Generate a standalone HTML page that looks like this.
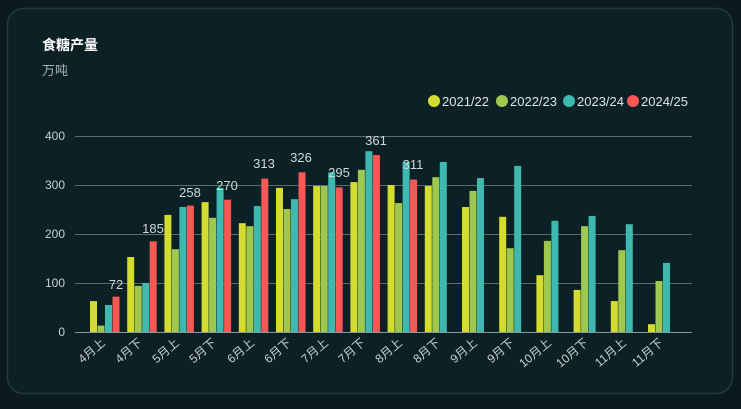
<!DOCTYPE html>
<html><head><meta charset="utf-8"><style>
html,body{margin:0;padding:0;background:#0b1a1e;}
body{width:741px;height:404px;overflow:hidden;font-family:"Liberation Sans","Noto Sans CJK SC",sans-serif;}
</style></head><body>
<svg width="741" height="404" xmlns="http://www.w3.org/2000/svg" font-family="Liberation Sans, Noto Sans CJK SC, sans-serif">
<rect x="0" y="0" width="741" height="404" fill="#0b1a1e"/>
<rect x="7.5" y="8.5" width="725" height="385" rx="16" fill="#0b2125" stroke="#26383c" stroke-width="1.5"/>
<text x="42" y="50" fill="#ffffff" font-size="14" font-weight="bold">食糖产量</text>
<text x="42" y="75" fill="#a9b3b7" font-size="13">万吨</text>
<g font-size="13" fill="#dfe4e6">
<circle cx="434" cy="101" r="6" fill="#d4dd2f"/><text x="442" y="106">2021/22</text>
<circle cx="502" cy="101" r="6" fill="#a0c84e"/><text x="510" y="106">2022/23</text>
<circle cx="569" cy="101" r="6" fill="#3fb8af"/><text x="577" y="106">2023/24</text>
<circle cx="633" cy="101" r="6" fill="#fa5855"/><text x="641" y="106">2024/25</text>
</g>
<g stroke="#5d6a6e" stroke-width="1">
<line x1="75" x2="692" y1="136.5" y2="136.5"/>
<line x1="75" x2="692" y1="185.5" y2="185.5"/>
<line x1="75" x2="692" y1="234.5" y2="234.5"/>
<line x1="75" x2="692" y1="283.5" y2="283.5"/>
<line x1="75" x2="692" y1="332.5" y2="332.5" stroke="#8a9599"/>
</g>
<g font-size="12" fill="#c8d0d4" text-anchor="end">
<text x="65" y="140">400</text><text x="65" y="189">300</text><text x="65" y="238">200</text><text x="65" y="287">100</text><text x="65" y="336">0</text>
</g>
<g>
<!-- g0 -->
<rect x="90" y="301.1" width="7" height="30.9" fill="#d4dd2f"/><rect x="97.5" y="325.6" width="7" height="6.4" fill="#a0c84e"/><rect x="105" y="305" width="7" height="27" fill="#3fb8af"/><rect x="112.5" y="296.7" width="7" height="35.3" fill="#fa5855"/>
<rect x="127.2" y="257" width="7" height="75" fill="#d4dd2f"/><rect x="134.7" y="285.9" width="7" height="46.1" fill="#a0c84e"/><rect x="142.2" y="283" width="7" height="49" fill="#3fb8af"/><rect x="149.7" y="241.3" width="7" height="90.7" fill="#fa5855"/>
<rect x="164.4" y="214.9" width="7" height="117.1" fill="#d4dd2f"/><rect x="171.9" y="249.2" width="7" height="82.8" fill="#a0c84e"/><rect x="179.4" y="207" width="7" height="125" fill="#3fb8af"/><rect x="186.9" y="205.6" width="7" height="126.4" fill="#fa5855"/>
<rect x="201.6" y="202.1" width="7" height="129.9" fill="#d4dd2f"/><rect x="209.1" y="217.8" width="7" height="114.2" fill="#a0c84e"/><rect x="216.6" y="187.9" width="7" height="144.1" fill="#3fb8af"/><rect x="224.1" y="199.7" width="7" height="132.3" fill="#fa5855"/>
<rect x="238.8" y="223.2" width="7" height="108.8" fill="#d4dd2f"/><rect x="246.3" y="226.2" width="7" height="105.8" fill="#a0c84e"/><rect x="253.8" y="206.1" width="7" height="125.9" fill="#3fb8af"/><rect x="261.3" y="178.6" width="7" height="153.4" fill="#fa5855"/>
<rect x="276" y="187.9" width="7" height="144.1" fill="#d4dd2f"/><rect x="283.5" y="209" width="7" height="123" fill="#a0c84e"/><rect x="291" y="199.2" width="7" height="132.8" fill="#3fb8af"/><rect x="298.5" y="172.3" width="7" height="159.7" fill="#fa5855"/>
<rect x="313.2" y="186" width="7" height="146" fill="#d4dd2f"/><rect x="320.7" y="186" width="7" height="146" fill="#a0c84e"/><rect x="328.2" y="172.3" width="7" height="159.7" fill="#3fb8af"/><rect x="335.7" y="187.4" width="7" height="144.6" fill="#fa5855"/>
<rect x="350.4" y="182.1" width="7" height="149.9" fill="#d4dd2f"/><rect x="357.9" y="169.8" width="7" height="162.2" fill="#a0c84e"/><rect x="365.4" y="151.2" width="7" height="180.8" fill="#3fb8af"/><rect x="372.9" y="155.1" width="7" height="176.9" fill="#fa5855"/>
<rect x="387.6" y="185" width="7" height="147" fill="#d4dd2f"/><rect x="395.1" y="203.1" width="7" height="128.9" fill="#a0c84e"/><rect x="402.6" y="162" width="7" height="170" fill="#3fb8af"/><rect x="410.1" y="179.6" width="7" height="152.4" fill="#fa5855"/>
<rect x="424.8" y="186" width="7" height="146" fill="#d4dd2f"/><rect x="432.3" y="177.2" width="7" height="154.8" fill="#a0c84e"/><rect x="439.8" y="162" width="7" height="170" fill="#3fb8af"/>
<rect x="462" y="207" width="7" height="125" fill="#d4dd2f"/><rect x="469.5" y="190.9" width="7" height="141.1" fill="#a0c84e"/><rect x="477" y="178.1" width="7" height="153.9" fill="#3fb8af"/>
<rect x="499.2" y="216.8" width="7" height="115.2" fill="#d4dd2f"/><rect x="506.7" y="248.2" width="7" height="83.8" fill="#a0c84e"/><rect x="514.2" y="165.9" width="7" height="166.1" fill="#3fb8af"/>
<rect x="536.4" y="275.2" width="7" height="56.8" fill="#d4dd2f"/><rect x="543.9" y="240.9" width="7" height="91.1" fill="#a0c84e"/><rect x="551.4" y="220.8" width="7" height="111.2" fill="#3fb8af"/>
<rect x="573.6" y="289.9" width="7" height="42.1" fill="#d4dd2f"/><rect x="581.1" y="226.2" width="7" height="105.8" fill="#a0c84e"/><rect x="588.6" y="215.9" width="7" height="116.1" fill="#3fb8af"/>
<rect x="610.8" y="301.1" width="7" height="30.9" fill="#d4dd2f"/><rect x="618.3" y="250.2" width="7" height="81.8" fill="#a0c84e"/><rect x="625.8" y="224.2" width="7" height="107.8" fill="#3fb8af"/>
<rect x="648" y="324.2" width="7" height="7.8" fill="#d4dd2f"/><rect x="655.5" y="281" width="7" height="51" fill="#a0c84e"/><rect x="663" y="262.9" width="7" height="69.1" fill="#3fb8af"/>
</g>
<g font-size="13" fill="#d0d8db" text-anchor="middle">
<text x="116" y="289">72</text><text x="153" y="233">185</text><text x="190" y="197">258</text><text x="227" y="190">270</text>
<text x="264" y="168">313</text><text x="301" y="162">326</text><text x="339" y="177">295</text><text x="376" y="145">361</text><text x="413" y="169">311</text>
</g>
<g font-size="12" fill="#c8d0d4" text-anchor="end">
<text transform="translate(106,344) rotate(-40)">4月上</text>
<text transform="translate(143,344) rotate(-40)">4月下</text>
<text transform="translate(180,344) rotate(-40)">5月上</text>
<text transform="translate(217,344) rotate(-40)">5月下</text>
<text transform="translate(255,344) rotate(-40)">6月上</text>
<text transform="translate(292,344) rotate(-40)">6月下</text>
<text transform="translate(329,344) rotate(-40)">7月上</text>
<text transform="translate(366,344) rotate(-40)">7月下</text>
<text transform="translate(403,344) rotate(-40)">8月上</text>
<text transform="translate(441,344) rotate(-40)">8月下</text>
<text transform="translate(478,344) rotate(-40)">9月上</text>
<text transform="translate(515,344) rotate(-40)">9月下</text>
<text transform="translate(552,344) rotate(-40)">10月上</text>
<text transform="translate(589,344) rotate(-40)">10月下</text>
<text transform="translate(627,344) rotate(-40)">11月上</text>
<text transform="translate(664,344) rotate(-40)">11月下</text>
</g>
</svg>
</body></html>
